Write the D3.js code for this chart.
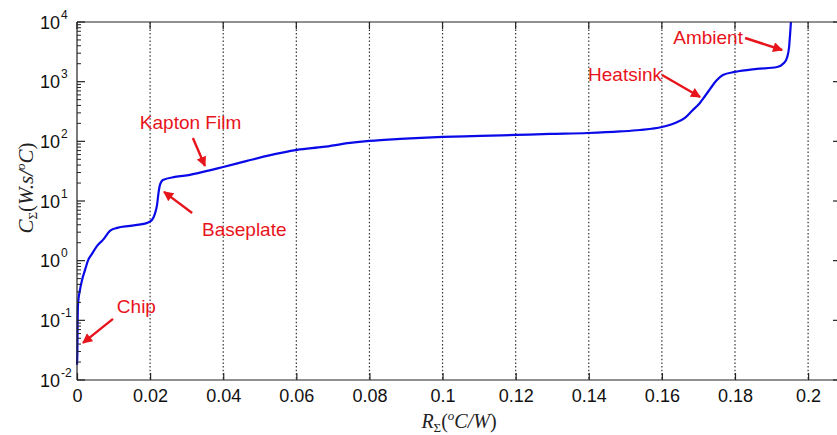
<!DOCTYPE html>
<html><head><meta charset="utf-8">
<script src="https://cdn.jsdelivr.net/npm/d3@7"></script>
<style>
html,body{margin:0;padding:0;background:#fff;}
svg{display:block;}
</style></head>
<body>
<svg id="chart" width="837" height="435"></svg>
<script>
// ---- data ----
const rSigma = [0, 0.0001, 0.00015, 0.0003, 0.0008, 0.0014, 0.0022, 0.003, 0.0041, 0.0055, 0.0071, 0.009, 0.011, 0.0145, 0.0192, 0.0205, 0.0213, 0.0219, 0.0223, 0.0227, 0.0235, 0.0268, 0.0309, 0.0345, 0.040, 0.0465, 0.052, 0.0602, 0.0673, 0.0747, 0.080, 0.0884, 0.1001, 0.1103, 0.1201, 0.1294, 0.1398, 0.1486, 0.154, 0.160, 0.1636, 0.1663, 0.1682, 0.1704, 0.1718, 0.1732, 0.1748, 0.1767, 0.180, 0.186, 0.1915, 0.1934, 0.1943, 0.1948, 0.1951, 0.1953];
const cSigma = [0.018, 0.029, 0.069, 0.196, 0.32, 0.48, 0.70, 1.0, 1.30, 1.77, 2.23, 3.15, 3.55, 3.83, 4.3, 4.8, 6.1, 8.6, 13.7, 18.6, 22.5, 25.3, 27.4, 30.7, 37.2, 47, 57, 71.8, 80.5, 94, 101.6, 110, 118.6, 123, 128, 133, 138, 146.5, 155, 174, 203, 247, 323, 440, 575, 755, 1028, 1295, 1455, 1634, 1764, 2056, 2594, 3810, 6550, 10000];
const xTickValues = [0, 0.02, 0.04, 0.06, 0.08, 0.1, 0.12, 0.14, 0.16, 0.18, 0.2];
const xTickLabels = ["0", "0.02", "0.04", "0.06", "0.08", "0.1", "0.12", "0.14", "0.16", "0.18", "0.2"];
const yTickExponents = [-2, -1, 0, 1, 2, 3, 4];
const annLabels = ["Kapton Film", "Baseplate", "Chip", "Heatsink", "Ambient"];
const annTextAt = [[0.0172, 161], [0.0342, 2.6], [0.0109, 0.134], [0.1398, 1028], [0.1631, 4275]];
const annTail = [[0.0317, 114], [0.0315, 6.3], [0.00985, 0.106], [0.16005, 1295], [0.18276, 5395]];
const annHead = [[0.0350, 38.7], [0.0238, 14.2], [0.00164, 0.042], [0.17045, 555], [0.19289, 3396]];
const xMax = 0.209;

// ---- drawing ----
const svg = d3.select("#chart");
const L = 77, R = 841, T = 22, B = 380;
const x = d3.scaleLinear().domain([0, xMax]).range([L, R]);
const y = d3.scaleLog().domain([1e-2, 1e4]).range([B, T]);
const sans = "'Liberation Sans', Arial, sans-serif";
const serif = "'Liberation Serif', 'Times New Roman', serif";
const axisColor = "#222";

// grid lines (dotted, vertical)
svg.append("g").selectAll("line").data(xTickValues.filter(d => d > 0)).join("line")
  .attr("x1", d => x(d)).attr("x2", d => x(d)).attr("y1", T).attr("y2", B)
  .attr("stroke", "#333").attr("stroke-width", 1.2).attr("stroke-dasharray", "1.5,2.2");

// curve
const pts = rSigma.map((r, i) => [r, cSigma[i]]);
svg.append("path").datum(pts)
  .attr("d", d3.line().x(d => x(d[0])).y(d => y(d[1])).curve(d3.curveMonotoneX))
  .attr("fill", "none").attr("stroke", "#0a0ae8").attr("stroke-width", 2.2)
  .attr("stroke-linejoin", "round");

// frame
const frame = svg.append("g").attr("stroke", axisColor).attr("stroke-width", 1.2);
frame.append("line").attr("x1", L).attr("x2", R).attr("y1", B).attr("y2", B);
frame.append("line").attr("x1", L).attr("x2", R).attr("y1", T).attr("y2", T);
frame.append("line").attr("x1", L).attr("x2", L).attr("y1", T).attr("y2", B);
frame.append("line").attr("x1", R).attr("x2", R).attr("y1", T).attr("y2", B);

// x axis (ticks inside) via d3 axis
const xAxis = d3.axisBottom(x).tickValues(xTickValues).tickSize(-7).tickPadding(9)
  .tickFormat((d, i) => xTickLabels[i]);
const gx = svg.append("g").attr("transform", `translate(0,${B})`).call(xAxis);
gx.select(".domain").remove();
gx.selectAll(".tick line").attr("stroke", axisColor).attr("stroke-width", 1.2);
gx.selectAll(".tick text").attr("font-family", sans).attr("font-size", 18).attr("fill", "#111")
  .attr("dy", "0.72em");
// top ticks
svg.append("g").selectAll("line").data(xTickValues).join("line")
  .attr("x1", d => x(d)).attr("x2", d => x(d)).attr("y1", T).attr("y2", T + 7)
  .attr("stroke", axisColor).attr("stroke-width", 1.2);

// y axis: major + minor ticks (inside)
const minor = [];
yTickExponents.slice(0, -1).forEach(e => { for (let k = 2; k <= 9; k++) minor.push(k * Math.pow(10, e)); });
const majors = yTickExponents.map(e => Math.pow(10, e));
const yt = svg.append("g").attr("stroke", axisColor).attr("stroke-width", 1);
yt.selectAll("line.maj").data(majors).join("line").attr("class", "maj")
  .attr("x1", L).attr("x2", L + 8).attr("y1", d => y(d)).attr("y2", d => y(d)).attr("stroke-width", 1.2);
yt.selectAll("line.min").data(minor).join("line").attr("class", "min")
  .attr("x1", L).attr("x2", L + 4).attr("y1", d => y(d)).attr("y2", d => y(d));
yt.selectAll("line.rmaj").data(majors).join("line").attr("class", "rmaj")
  .attr("x1", R - 8).attr("x2", R).attr("y1", d => y(d)).attr("y2", d => y(d)).attr("stroke-width", 1.2);
yt.selectAll("line.rmin").data(minor).join("line").attr("class", "rmin")
  .attr("x1", R - 4).attr("x2", R).attr("y1", d => y(d)).attr("y2", d => y(d));

// y tick labels: 10^e
const ylab = svg.append("g").selectAll("text").data(yTickExponents).join("text")
  .attr("x", 60).attr("y", d => y(Math.pow(10, d)) + 6.5)
  .attr("font-family", sans).attr("font-size", 18).attr("fill", "#111").attr("text-anchor", "end");
ylab.append("tspan").text("10");
svg.append("g").selectAll("text").data(yTickExponents).join("text")
  .attr("x", 61).attr("y", d => y(Math.pow(10, d)) - 3.5)
  .attr("font-family", sans).attr("font-size", 12).attr("fill", "#111")
  .text(d => String(d));

// axis titles
const xt = svg.append("text").attr("x", 459).attr("y", 428).attr("text-anchor", "middle")
  .attr("font-family", serif).attr("font-size", 20).attr("fill", "#222");
xt.append("tspan").attr("font-style", "italic").text("R");
xt.append("tspan").attr("font-size", 13).attr("dy", 4).text("Σ");
xt.append("tspan").attr("dy", -4).text("(");
xt.append("tspan").attr("font-style", "italic").attr("font-size", 13).attr("dy", -8).text("o");
xt.append("tspan").attr("font-style", "italic").attr("dy", 8).text("C/W");
xt.append("tspan").text(")");

const ytl = svg.append("text").attr("transform", "translate(33,188) rotate(-90)").attr("text-anchor", "middle")
  .attr("font-family", serif).attr("font-size", 21).attr("fill", "#222");
ytl.append("tspan").attr("font-style", "italic").text("C");
ytl.append("tspan").attr("font-size", 13).attr("dy", 4).text("Σ");
ytl.append("tspan").attr("dy", -4).text("(");
ytl.append("tspan").attr("font-style", "italic").text("W.s/");
ytl.append("tspan").attr("font-style", "italic").attr("font-size", 13).attr("dy", -8).text("o");
ytl.append("tspan").attr("font-style", "italic").attr("dy", 8).text("C");
ytl.append("tspan").text(")");

// annotations
const red = "#e8141c";
svg.append("defs").append("marker").attr("id", "ah")
  .attr("viewBox", "0 0 10 10").attr("refX", 9).attr("refY", 5)
  .attr("markerWidth", 11).attr("markerHeight", 10).attr("markerUnits", "userSpaceOnUse")
  .attr("orient", "auto")
  .append("path").attr("d", "M0,0 L10,5 L0,10 Z").attr("fill", red);
const ann = svg.append("g");
annLabels.forEach((lab, i) => {
  ann.append("text").attr("x", x(annTextAt[i][0])).attr("y", y(annTextAt[i][1]))
    .attr("font-family", sans).attr("font-size", 19).attr("fill", red).text(lab);
  ann.append("line")
    .attr("x1", x(annTail[i][0])).attr("y1", y(annTail[i][1]))
    .attr("x2", x(annHead[i][0])).attr("y2", y(annHead[i][1]))
    .attr("stroke", red).attr("stroke-width", 2.4).attr("marker-end", "url(#ah)");
});
</script>
</body></html>
